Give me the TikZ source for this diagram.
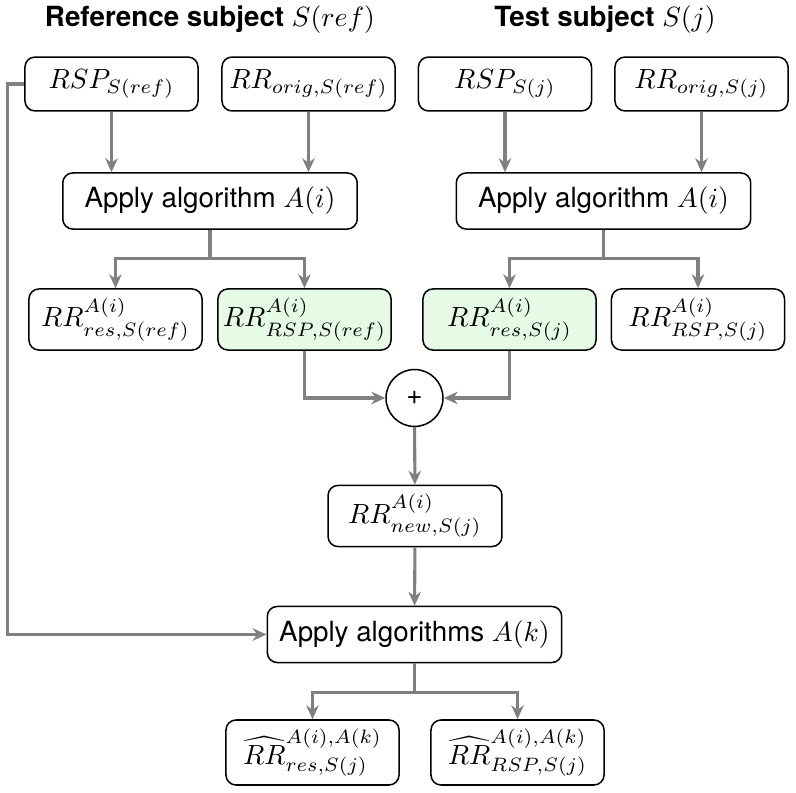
\documentclass[tikz,border=0pt]{standalone}
\usepackage{fontspec}
\setmainfont{TeX Gyre Heros}
\usetikzlibrary{arrows.meta, calc, positioning}
\definecolor{flowGray}{RGB}{128,128,128}
\definecolor{hlGreen}{RGB}{230,251,230}
\tikzset{
    box/.style={rectangle, rounded corners=3.6pt, draw, line width=0.55pt, fill=white, minimum width=62.3pt, minimum height=19.4pt, inner sep=1pt},
    boxRes/.style={box, minimum height=22pt},
    boxHi/.style={boxRes, fill=hlGreen},
    boxApply/.style={box, minimum width=106pt, minimum height=20.2pt},
    boxHat/.style={box, minimum height=23.4pt},
    sumNode/.style={circle, draw, line width=0.55pt, fill=white, minimum size=20.5pt, inner sep=0pt},
    titleNode/.style={font=\bfseries},
    flow/.style={-{Stealth[length=5pt, width=4.5pt, inset=1.6pt]}, draw=flowGray, line width=1.1pt},
    flowPlain/.style={draw=flowGray, line width=1.1pt},
}
\newcommand{\drawSplit}[4]{
    \coordinate (#4) at ($(#1.south)+(0,-29)$);
    \draw[flowPlain] (#1.south) -- (#4);
    \draw[flow] (#4) -| (#2.north);
    \draw[flow] (#4) -| (#3.north);
}

\begin{document}
\begin{tikzpicture}[x=0.36pt, y=0.36pt]

        \useasboundingbox (0,0) rectangle (796,-793);

        % titles
        \node[titleNode] (titleRef) at (210,-20) {Reference subject $S(ref)$};
        \node[titleNode] (titleJ) at (605,-20) {Test subject $S(j)$};

        % inputs
        \node[box] (rspRef) at (111.5,-84) {$RSP_{S(ref)}$};
        \node[box] (origRef) at (308.5,-84) {$RR_{orig,S(ref)}$};
        \node[box] (rspJ) at (505,-84) {$RSP_{S(j)}$};
        \node[box] (origJ) at (701.5,-84) {$RR_{orig,S(j)}$};

        \node[boxApply] (applyRef) at (210,-201) {Apply algorithm $A(i)$};
        \node[boxApply] (applyJ) at (603.5,-201) {Apply algorithm $A(i)$};

        \node[boxRes] (resRef) at (115.5,-319.5) {$RR^{A(i)}_{res,S(ref)}$};
        \node[boxHi] (rspResRef) at (304.5,-319.5) {$RR^{A(i)}_{RSP,S(ref)}$};
        \node[boxHi] (resJ) at (509.5,-319.5) {$RR^{A(i)}_{res,S(j)}$};
        \node[boxRes] (rspResJ) at (698,-319.5) {$RR^{A(i)}_{RSP,S(j)}$};

        \node[sumNode] (sum) at (414.5,-398) {+};
        \node[boxRes, minimum width=62.6pt] (newJ) at (415,-516) {$RR^{A(i)}_{new,S(j)}$};
        \node[boxApply] (applyK) at (414.5,-634.5) {Apply algorithms $A(k)$};

        \node[boxHat] (hatRes) at (312.5,-752.5) {$\widehat{RR}^{A(i),A(k)}_{res,S(j)}$};
        \node[boxHat] (hatRsp) at (517.5,-752.5) {$\widehat{RR}^{A(i),A(k)}_{RSP,S(j)}$};

        % connectors
        \draw[flow] (rspRef) -- (applyRef.north -| rspRef);
        \draw[flow] (origRef) -- (applyRef.north -| origRef);
        \draw[flow] (rspJ) -- (applyJ.north -| rspJ);
        \draw[flow] (origJ) -- (applyJ.north -| origJ);

        \drawSplit{applyRef}{resRef}{rspResRef}{splitRef}
        \drawSplit{applyJ}{resJ}{rspResJ}{splitJ}

        \draw[flow] (rspResRef.south) |- (sum.west);
        \draw[flow] (resJ.south) |- (sum.east);
        \draw[flow] (sum) -- (newJ);
        \draw[flow] (newJ) -- (applyK);
        \draw[flow] (rspRef.west) -- ++(-17,0) |- (applyK.west);

        \drawSplit{applyK}{hatRes}{hatRsp}{splitK}

    \end{tikzpicture}
\end{document}
